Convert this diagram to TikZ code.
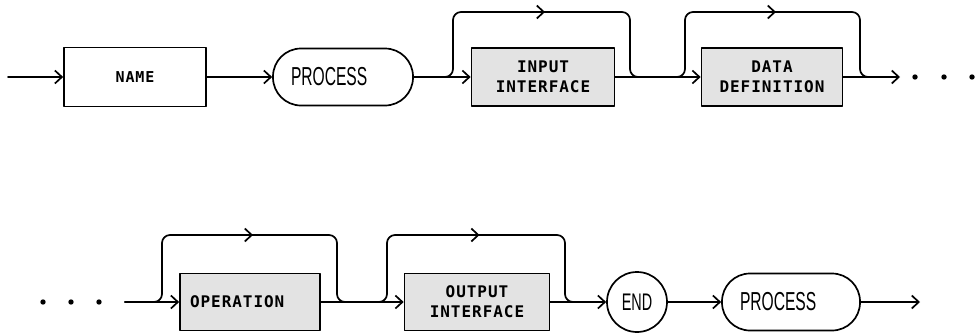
\documentclass[tikz,border=0pt]{standalone}
\usepackage{fontspec}
\newfontfamily\leroy[FakeStretch=0.6]{Liberation Sans}
\newfontfamily\dotfont[LetterSpace=6]{DejaVu Sans Mono Bold}
\usetikzlibrary{arrows.meta,calc}
\begin{document}
\begin{tikzpicture}[x=1pt, y=1pt, line width=1.7pt, line join=round, line cap=round, >={Straight Barb[length=7pt,width=13pt]},
	box/.style={draw, rectangle, minimum width=142pt, minimum height=59pt, inner sep=0pt, font=\dotfont\fontsize{15}{18}\selectfont},
	shbox/.style={draw, fill=gray!22, rectangle, minimum width=143pt, minimum height=58pt, inner sep=0pt, align=center, font=\dotfont\fontsize{16}{20}\selectfont},
	procbox/.style={draw, rectangle, rounded corners=28pt, minimum height=57pt, inner xsep=18pt, inner ysep=0pt, text width=104pt, align=left, font=\leroy\fontsize{26}{28}\selectfont},
	endbox/.style={draw, circle, minimum size=60pt, inner sep=0pt, font=\leroy\fontsize{24}{26}\selectfont},
	bypass/.style={rounded corners=8pt}]
			\def\ya{256}
			\def\yb{31}
			\def\yt{321}
			\def\yu{98}
			\useasboundingbox (0,0) rectangle (975,333);
			% first row
			\coordinate (s1) at (8,\ya);
			\node[box] (name) at (135,\ya) {NAME};
			\node[procbox] (proc1) at (343,\ya) {PROCESS};
			\node[shbox] (inif) at (543,\ya) {INPUT\\INTERFACE};
			\node[shbox, minimum width=141pt] (datadef) at (772,\ya) {DATA\\DEFINITION};
			\coordinate (x1) at (900,\ya);
			\coordinate (b1) at (453,\yt);
			\coordinate (e1) at (630,\yt);
			\coordinate (j1) at (645,\ya);
			\coordinate (b2) at (685,\yt);
			\coordinate (e2) at (860,\yt);
			\coordinate (j2) at (875,\ya);
			% second row
			\coordinate (s2) at (125,\yb);
			\node[shbox, minimum width=140pt, minimum height=57pt, text width=120pt, align=left] (oper) at (250,\yb) {OPERATION};
			\node[shbox, minimum width=145pt, minimum height=57pt] (outif) at (477,\yb) {OUTPUT\\INTERFACE};
			\node[endbox] (endn) at (637,\yb) {END};
			\node[procbox, text width=102pt] (proc2) at (791,\yb) {PROCESS};
			\coordinate (x2) at (920,\yb);
			\coordinate (b3) at (162,\yu);
			\coordinate (e3) at (337,\yu);
			\coordinate (j3) at (352,\yb);
			\coordinate (b4) at (387,\yu);
			\coordinate (e4) at (565,\yu);
			\coordinate (j4) at (580,\yb);
			\draw[->] (s1) -- (name);
			\draw[->] (name) -- (proc1);
			\draw[->] (proc1) -- (inif);
			\draw[->] (inif) -- (datadef);
			\draw[->] (datadef) -- (x1);
			\draw[->] (s2) -- (oper);
			\draw[->] (oper) -- (outif);
			\draw[->] (outif) -- (endn);
			\draw[->] (endn) -- (proc2);
			\draw[->] (proc2) -- (x2);
			\foreach \f/\b/\e/\j in {proc1.east/b1/e1/j1, inif.east/b2/e2/j2, s2/b3/e3/j3, oper.east/b4/e4/j4} {
				\draw[bypass] (\f) -| (\b) -- (\e) |- (\j);
				\draw[->] ($(\b)!0.1!(\e)$) -- ($(\b)!0.52!(\e)$);
			}
			\foreach \i in {(915,\ya), (944,\ya), (972,\ya), (43,\yb), (71,\yb), (99,\yb)} \fill \i circle(2.7);
		\end{tikzpicture}
\end{document}
